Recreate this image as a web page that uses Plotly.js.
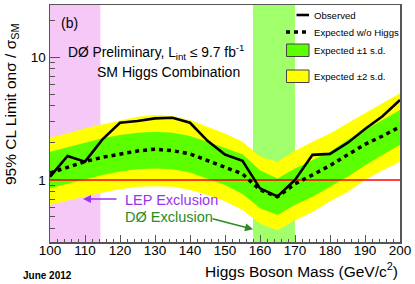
<!DOCTYPE html>
<html>
<head>
<meta charset="utf-8">
<script src="https://cdn.plot.ly/plotly-3.0.1.min.js"></script>
<style>html,body{margin:0;padding:0;background:#fff;}#chart{width:415px;height:284px;}</style>
</head>
<body>
<div id="chart"></div>
<script>
// ---- data ----
const mass = [100,105,110,115,120,125,130,135,140,145,150,155,160,165,170,175,180,185,190,195,200];
const observed = [1.06,1.57,1.41,2.14,2.92,3.02,3.17,3.21,2.92,2.08,1.61,1.43,0.855,0.735,1.0,1.60,1.63,2.0,2.6,3.3,4.47];
const expected = [1.14,1.27,1.41,1.53,1.63,1.72,1.78,1.73,1.63,1.45,1.27,1.12,0.83,0.73,0.93,1.10,1.31,1.60,1.95,2.28,2.71];
const plus1sd  = [1.70,1.86,2.01,2.18,2.32,2.42,2.47,2.42,2.28,2.05,1.81,1.62,1.20,1.03,1.24,1.45,1.70,2.11,2.55,3.07,3.71];
const minus1sd = [0.855,0.93,1.01,1.10,1.17,1.22,1.24,1.22,1.15,1.03,0.91,0.77,0.59,0.52,0.63,0.73,0.88,1.06,1.32,1.60,1.93];
const plus2sd  = [2.22,2.39,2.63,2.84,3.07,3.27,3.38,3.31,3.07,2.71,2.39,2.05,1.55,1.41,1.73,2.05,2.39,2.89,3.48,4.20,5.07];
const minus2sd = [0.63,0.68,0.73,0.79,0.84,0.88,0.89,0.88,0.83,0.755,0.67,0.57,0.44,0.39,0.47,0.55,0.67,0.80,1.00,1.20,1.41];
const smLine = {x: [100, 200], y: [1, 1]};
const lepExclusion = [100, 114.4];
const d0Exclusion = [158, 170];
const yTickVals = [1, 10];
const yTickText = ['1', '10'];
const yMinorVals = [0.4,0.5,0.6,0.7,0.8,0.9,2,3,4,5,6,7,8,9,20];
const legendLabels = ['Observed', 'Expected w/o Higgs', 'Expected \u00b11 s.d.', 'Expected \u00b12 s.d.'];

// ---- layout helpers (pixel -> paper) ----
const W = 415, H = 284, ML = 50, MR = 15, MT = 5, MB = 42;
const PW = W - ML - MR, PH = H - MT - MB;
const px = v => (v - ML) / PW;
const py = v => (H - MB - v) / PH;

const FONT = 'Liberation Sans, Arial, Helvetica, sans-serif';
const YELLOW = '#ffff00', GREEN = '#5cff00';

const hidden = {width: 0, color: 'rgba(0,0,0,0)'};
const traces = [
  {x: mass, y: minus2sd, mode: 'lines', line: hidden, hoverinfo: 'skip', showlegend: false},
  {x: mass, y: plus2sd, mode: 'lines', line: hidden, fill: 'tonexty', fillcolor: YELLOW, name: legendLabels[3], showlegend: false},
  {x: mass, y: minus1sd, mode: 'lines', line: hidden, hoverinfo: 'skip', showlegend: false},
  {x: mass, y: plus1sd, mode: 'lines', line: hidden, fill: 'tonexty', fillcolor: GREEN, name: legendLabels[2], showlegend: false},
  {x: smLine.x, y: smLine.y, mode: 'lines', line: {color: '#ff0000', width: 1.6}, showlegend: false},
  {x: mass, y: expected, mode: 'lines', line: {color: '#000', width: 3.5, dash: '4px,4px'}, name: legendLabels[1], showlegend: false},
  {x: mass, y: observed, mode: 'lines', line: {color: '#000', width: 2.6}, name: legendLabels[0], showlegend: false}
];

const axisColor = '#555';
const shapes = [
  {type: 'rect', xref: 'x', yref: 'paper', x0: lepExclusion[0], x1: lepExclusion[1], y0: 0, y1: 1, fillcolor: '#f5c8f8', line: {width: 0}, layer: 'below'},
  {type: 'rect', xref: 'x', yref: 'paper', x0: d0Exclusion[0], x1: d0Exclusion[1], y0: 0, y1: 1, fillcolor: '#a0ff6a', line: {width: 0}, layer: 'below'},
  // legend symbols
  {type: 'line', xref: 'paper', yref: 'paper', x0: px(296.5), x1: px(309), y0: py(15), y1: py(15), line: {color: '#000', width: 2.6}},
  {type: 'line', xref: 'paper', yref: 'paper', x0: px(286), x1: px(309), y0: py(32), y1: py(32), line: {color: '#000', width: 3.5, dash: '4px,4px'}},
  {type: 'rect', xref: 'paper', yref: 'paper', x0: px(286.5), x1: px(309), y0: py(44), y1: py(56.5), fillcolor: GREEN, line: {color: '#444', width: 1}},
  {type: 'rect', xref: 'paper', yref: 'paper', x0: px(286.5), x1: px(309), y0: py(70), y1: py(82.5), fillcolor: YELLOW, line: {color: '#444', width: 1}}
];

const ann = (text, x, y, opts) => Object.assign({text: text, xref: 'paper', yref: 'paper', x: px(x), y: py(y), showarrow: false, xanchor: 'center', yanchor: 'middle', font: {family: FONT, size: 14, color: '#000'}}, opts || {});

const annotations = [
  ann('(b)', 69, 23, {font: {family: FONT, size: 14, color: '#000'}}),
  ann('D\u00d8 Preliminary, L<sub>int</sub> \u2264 9.7 fb<sup>-1</sup>', 155.5, 52, {font: {family: FONT, size: 13.8, color: '#000'}}),
  ann('SM Higgs Combination', 168.5, 72, {font: {family: FONT, size: 14, color: '#000'}}),
  ann('LEP Exclusion', 123, 199.5, {xanchor: 'left', font: {family: FONT, size: 14.5, color: '#9933ee'}}),
  ann('D\u00d8 Exclusion', 123, 217, {xanchor: 'left', font: {family: FONT, size: 14.5, color: '#2a8c1e'}}),
  ann('', 83, 199, {showarrow: true, arrowhead: 2, arrowsize: 1, arrowwidth: 1.6, arrowcolor: '#9933ee', ax: 35, ay: 0, standoff: 0, startstandoff: 0}),
  ann('', 253, 229.3, {showarrow: true, arrowhead: 2, arrowsize: 1, arrowwidth: 1.6, arrowcolor: '#2a8c1e', ax: -42, ay: -11, standoff: 0, startstandoff: 0}),
  ann(legendLabels[0], 311.5, 15, {xanchor: 'left', font: {family: FONT, size: 9.6, color: '#000'}}),
  ann(legendLabels[1], 311.5, 32, {xanchor: 'left', font: {family: FONT, size: 9.6, color: '#000'}}),
  ann(legendLabels[2], 311.5, 50, {xanchor: 'left', font: {family: FONT, size: 9.6, color: '#000'}}),
  ann(legendLabels[3], 311.5, 76, {xanchor: 'left', font: {family: FONT, size: 9.6, color: '#000'}}),
  ann('95% CL Limit on\u03c3 / \u03c3<sub>SM</sub>', 12, 105, {textangle: -90, font: {family: FONT, size: 15.5, color: '#000'}}),
  ann('Higgs Boson Mass (GeV/c<sup>2</sup>)', 400, 270, {xanchor: 'right', font: {family: FONT, size: 15.5, color: '#000'}}),
  ann('<b>June 2012</b>', 20.5, 275.5, {xanchor: 'left', font: {family: FONT, size: 10, color: '#000'}})
];

const layout = {
  width: W, height: H,
  margin: {l: ML, r: MR, t: MT, b: MB, pad: 0},
  paper_bgcolor: '#fff', plot_bgcolor: '#fff',
  showlegend: false,
  font: {family: FONT, size: 13.5, color: '#000'},
  xaxis: {
    range: [100, 200], tickmode: 'linear', tick0: 100, dtick: 10,
    ticks: 'inside', ticklen: 7, tickwidth: 1, tickcolor: axisColor,
    ticklabelstandoff: -5,
    minor: {tickmode: 'linear', tick0: 100, dtick: 2, ticks: 'inside', ticklen: 3.5, tickwidth: 1, tickcolor: axisColor, showgrid: false},
    showline: true, linecolor: axisColor, linewidth: 1.5, mirror: true,
    showgrid: false, zeroline: false, tickfont: {family: FONT, size: 13.5, color: '#000'}
  },
  yaxis: {
    type: 'log', range: [Math.log10(0.313), Math.log10(26.5)],
    tickmode: 'array', tickvals: yTickVals, ticktext: yTickText,
    ticks: 'inside', ticklen: 10, tickwidth: 1, tickcolor: axisColor,
    minor: {tickmode: 'array', tickvals: yMinorVals, ticks: 'inside', ticklen: 5, tickwidth: 1, tickcolor: axisColor, showgrid: false},
    showline: true, linecolor: axisColor, linewidth: 1.5, mirror: true,
    showgrid: false, zeroline: false, tickfont: {family: FONT, size: 13.5, color: '#000'}
  },
  shapes: shapes,
  annotations: annotations
};

Plotly.newPlot('chart', traces, layout, {staticPlot: true, displayModeBar: false});
</script>
</body>
</html>
